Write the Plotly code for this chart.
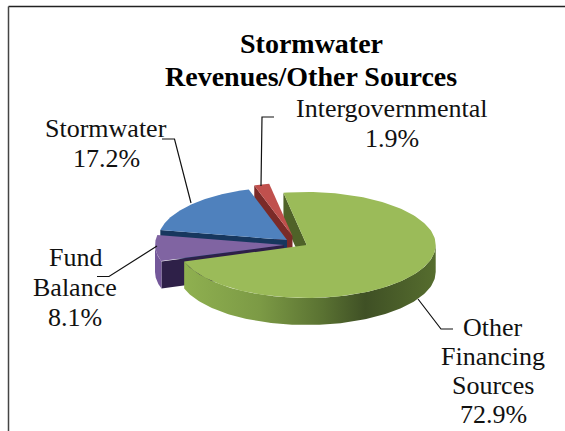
import numpy as np
import plotly.graph_objects as go

categories = [["Other", "Financing", "Sources"], ["Fund", "Balance"], ["Stormwater"], ["Intergovernmental"]]
shares = [72.9, 8.1, 17.2, 1.9]
title_lines = ["Stormwater", "Revenues/Other Sources"]

# drawing geometry, in picture pixels
RX, RY, DEPTH = 129, 53, 27
START = -10.4
apexes = [(306.7, 245), (284, 245), (287, 240), (292.5, 236)]
top_colors = ["#9BBB59", "#8064A2", "#4F81BD", "#C0504D"]
cut_colors = ["#4F6228", "#2E2048", "#17375E", "#7A2A28"]
label_pos = [(493, 327, 29), (75, 257, 30), (106, 128, 30), (392, 108, 30)]
leaders = [
    [(418, 299), (441, 329), (453, 329)],
    [(157, 246), (109, 276.5), (97, 276.5)],
    [(191, 203), (174.5, 139), (162, 139)],
    [(261, 186), (262, 117), (274, 117)],
]

total = sum(shares)
edges = START + np.concatenate([[0], np.cumsum(shares)]) / total * 360


def rim(apex, t):
    r = np.radians(t)
    return apex[0] + RX * np.sin(r), apex[1] - RY * np.cos(r)


def poly(x, y, color=None, **kw):
    style = dict(x=np.asarray(x), y=np.asarray(y), mode="lines", fill="toself",
                 line=dict(width=0), hoverinfo="skip", showlegend=False)
    if color:
        style["fillcolor"] = color
    style.update(kw)
    return go.Scatter(**style)


def top_face(i):
    t = np.linspace(edges[i], edges[i + 1], 160)
    x, y = rim(apexes[i], t)
    return poly(np.r_[apexes[i][0], x, apexes[i][0]], np.r_[apexes[i][1], y, apexes[i][1]], top_colors[i])


def cut_face(i, t):
    px, py = rim(apexes[i], t)
    ax, ay = apexes[i]
    return poly([px, px, ax, ax, px], [py, py + DEPTH, ay + DEPTH, ay, py], cut_colors[i])


def side(i, t0, t1, **kw):
    t = np.linspace(t0, t1, 120)
    x, y = rim(apexes[i], t)
    return poly(np.r_[x, x[::-1], x[0]], np.r_[y, y[::-1] + DEPTH, y[0]], **kw)


fig = go.Figure()
# painter's order: back to front
fig.add_trace(cut_face(0, edges[0]))
fig.add_trace(cut_face(3, edges[3]))
fig.add_trace(top_face(3))
fig.add_trace(cut_face(2, edges[2]))
fig.add_trace(top_face(2))
fig.add_trace(cut_face(1, edges[1]))
fig.add_trace(side(1, edges[1], 270, color="#74589A"))
fig.add_trace(top_face(1))
fig.add_trace(side(0, 90, edges[1], fillgradient=dict(
    type="horizontal",
    colorscale=[[0, "#8FB050"], [0.3, "#7C9A45"], [0.55, "#5A7232"],
                [0.72, "#3F5025"], [1, "#566D2E"]])))
fig.add_trace(top_face(0))

for pts in leaders:
    fig.add_trace(go.Scatter(x=[p[0] for p in pts], y=[p[1] for p in pts], mode="lines",
                             line=dict(color="#111111", width=1.2),
                             hoverinfo="skip", showlegend=False))

FONT = "Liberation Serif"
annotations = []
for k, line in enumerate(title_lines):
    annotations.append(dict(x=311, y=43 + 33 * k, text=f"<b>{line}</b>",
                            font=dict(family=FONT, size=28, color="#000000")))
for name, share, (lx, ly, step) in zip(categories, shares, label_pos):
    for k, line in enumerate(name + [f"{share}%"]):
        annotations.append(dict(x=lx, y=ly + step * k, text=line,
                                font=dict(family=FONT, size=26, color="#111111")))
for a in annotations:
    a.update(xref="x", yref="y", showarrow=False, xanchor="center", yanchor="middle", align="center")

fig.update_layout(
    width=565, height=431, margin=dict(l=0, r=0, t=0, b=0),
    paper_bgcolor="white", plot_bgcolor="white", showlegend=False,
    xaxis=dict(range=[0, 565], visible=False, fixedrange=True),
    yaxis=dict(range=[431, 0], visible=False, fixedrange=True),
    annotations=annotations,
    shapes=[
        dict(type="line", xref="x", yref="y", x0=8.5, x1=565, y0=6.5, y1=6.5, line=dict(color="#222222", width=1.3)),
        dict(type="line", xref="x", yref="y", x0=8.5, x1=8.5, y0=6.5, y1=431, line=dict(color="#444444", width=1.5)),
    ],
)
fig.write_html("out.html", config=dict(displayModeBar=False),
               post_script="document.body.style.margin='0';document.body.style.overflow='hidden';")
